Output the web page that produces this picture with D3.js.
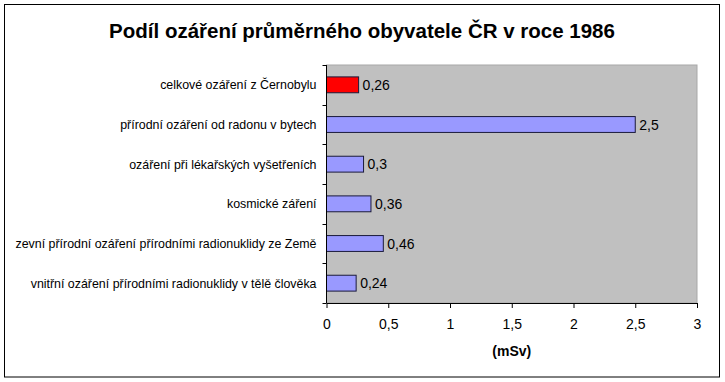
<!DOCTYPE html>
<html><head><meta charset="utf-8">
<script src="https://cdn.jsdelivr.net/npm/d3@7"></script>
<style>body{margin:0;background:#fff}svg{display:block}text{font-family:"Liberation Sans",Arial,sans-serif}</style>
</head><body><div id="chart"></div>
<script>
const categories = [
  "celkové ozáření z Černobylu",
  "přírodní ozáření od radonu v bytech",
  "ozáření při lékařských vyšetřeních",
  "kosmické záření",
  "zevní přírodní ozáření přírodními radionuklidy ze Země",
  "vnitřní ozáření přírodními radionuklidy v tělě člověka"
];
const values = [0.26, 2.5, 0.3, 0.36, 0.46, 0.24];
const valueLabels = ["0,26", "2,5", "0,3", "0,36", "0,46", "0,24"];
const xTicks = [0, 0.5, 1, 1.5, 2, 2.5, 3];
const xTickLabels = ["0", "0,5", "1", "1,5", "2", "2,5", "3"];
const barColors = ["#FF0000", "#9999FF", "#9999FF", "#9999FF", "#9999FF", "#9999FF"];
const title = "Podíl ozáření průměrného obyvatele ČR v roce 1986";
const xTitle = "(mSv)";

const W = 725, H = 382;
const svg = d3.select("#chart").append("svg").attr("width", W).attr("height", H);
svg.append("rect").attr("x", 4.5).attr("y", 4.5).attr("width", 715).attr("height", 372.5)
  .attr("fill", "#fff").attr("stroke", "#000").attr("stroke-width", 1);

const plot = {left: 326.5, right: 697, top: 65, bottom: 303};
const x = d3.scaleLinear().domain([0, 3]).range([plot.left, plot.right]);
const y = d3.scaleBand().domain(categories).range([plot.top, plot.bottom]).paddingInner(0.6).paddingOuter(0.3);
const yb = d3.scaleBand().domain(categories).range([plot.top, plot.bottom]);

svg.append("rect").attr("x", plot.left).attr("y", plot.top)
  .attr("width", plot.right - plot.left).attr("height", plot.bottom - plot.top)
  .attr("fill", "#C0C0C0").attr("stroke", "#A8A8A8").attr("stroke-width", 1);

svg.append("text").attr("x", 362).attr("y", 38).attr("text-anchor", "middle")
  .attr("font-size", "20.5px").attr("font-weight", "bold").attr("fill", "#000").text(title);

svg.selectAll("rect.bar").data(values).enter().append("rect").attr("class", "bar")
  .attr("x", x(0)).attr("y", (d, i) => y(categories[i]))
  .attr("width", d => x(d) - x(0)).attr("height", y.bandwidth())
  .attr("fill", (d, i) => barColors[i]).attr("stroke", "#1a1a3a").attr("stroke-width", 1);

svg.selectAll("text.val").data(values).enter().append("text").attr("class", "val")
  .attr("x", d => x(d) + 4).attr("y", (d, i) => y(categories[i]) + y.bandwidth() / 2)
  .attr("dy", "0.36em").attr("font-size", "14px").attr("fill", "#000")
  .text((d, i) => valueLabels[i]);

// y axis
const yAxisG = svg.append("g");
yAxisG.append("line").attr("x1", plot.left).attr("x2", plot.left).attr("y1", plot.top).attr("y2", plot.bottom).attr("stroke", "#000");
const bounds = categories.map(c => yb(c)).concat([plot.bottom]);
yAxisG.selectAll("line.t").data(bounds).enter().append("line").attr("class", "t")
  .attr("x1", plot.left - 4).attr("x2", plot.left).attr("y1", d => Math.round(d) + 0.5).attr("y2", d => Math.round(d) + 0.5).attr("stroke", "#000");
yAxisG.selectAll("text").data(categories).enter().append("text")
  .attr("x", plot.left - 10).attr("y", d => yb(d) + yb.bandwidth() / 2).attr("dy", "0.36em")
  .attr("text-anchor", "end").attr("font-size", "12.4px").attr("fill", "#000").text(d => d);

// x axis
const xAxis = d3.axisBottom(x).tickValues(xTicks).tickFormat((d, i) => xTickLabels[i]).tickSize(5).tickSizeOuter(0);
const xg = svg.append("g").attr("transform", `translate(0,${plot.bottom})`).call(xAxis);
xg.select(".domain").attr("stroke", "#000");
xg.selectAll("text").attr("font-size", "14px").attr("fill", "#000").attr("dy", "1.3em")
  .attr("font-family", "'Liberation Sans', Arial, sans-serif");

svg.append("text").attr("x", x(1.5)).attr("y", 356).attr("text-anchor", "middle")
  .attr("font-size", "14px").attr("font-weight", "bold").attr("fill", "#000").text(xTitle);
</script></body></html>
